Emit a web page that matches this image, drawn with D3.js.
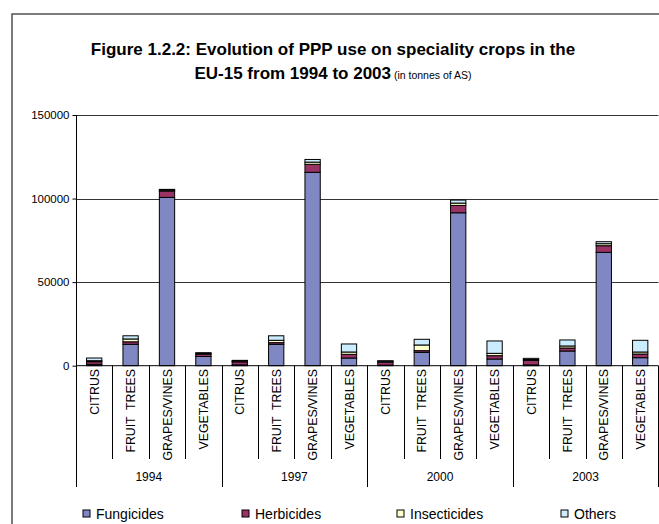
<!DOCTYPE html>
<html><head><meta charset="utf-8">
<script src="https://cdnjs.cloudflare.com/ajax/libs/d3/7.8.5/d3.min.js"></script>
<style>body{margin:0;background:#fff}svg{display:block;font-family:Arial,"Liberation Sans",sans-serif}</style>
</head><body><svg id="c" width="659" height="524"></svg>
<script>
const years = ["1994","1997","2000","2003"];
const crops = ["CITRUS","FRUIT  TREES","GRAPES/VINES","VEGETABLES"];
const seriesNames = ["Fungicides","Herbicides","Insecticides","Others"];
const seriesColors = ["#8088c4","#993366","#ffffcc","#ccecff"];
// values per year, ordered by crops
const fungicides = [800,12800,100700,5500, 500,12800,115700,4600, 300,8000,91500,4000, 500,8800,67800,4800];
const herbicides = [1600,1500,3800,1300, 1800,1000,4800,2200, 1800,1000,4400,2000, 2600,1800,4000,2200];
const insecticides = [600,1700,500,500, 400,1400,1300,1400, 500,3400,1400,1400, 600,1200,1200,1200];
const others = [1600,1900,500,500, 500,2700,1600,4800, 400,3400,1800,7400, 700,3600,1200,7000];
const yTicks = [0,50000,100000,150000];

const svg = d3.select("#c");
const x0=76,x1=658.4,yTop=115,yBase=365.7;

const rows = [];
years.forEach((yr,i)=>crops.forEach((c,j)=>{
  const k=i*4+j;
  rows.push({key:yr+"|"+c,year:yr,crop:c,Fungicides:fungicides[k],Herbicides:herbicides[k],Insecticides:insecticides[k],Others:others[k]});
}));

const x = d3.scaleBand().domain(rows.map(d=>d.key)).range([x0,x1]).paddingInner(0.58).paddingOuter(0.29);
const xc = d3.scaleBand().domain(rows.map(d=>d.key)).range([x0,x1]);
const y = d3.scaleLinear().domain([0,150000]).range([yBase,yTop]);

// frame
svg.append("rect").attr("x",12).attr("y",14).attr("width",700).attr("height",600)
  .attr("fill","none").attr("stroke","#505050").attr("stroke-width",1.5);

// title
const t = svg.append("text").attr("text-anchor","middle").attr("font-weight","bold").attr("font-size",17).attr("fill","#000");
t.append("tspan").attr("x",333).attr("y",55).text("Figure 1.2.2: Evolution of PPP use on speciality crops in the");
const t2 = svg.append("text").attr("text-anchor","middle").attr("x",333).attr("y",79).attr("fill","#000");
t2.append("tspan").attr("font-weight","bold").attr("font-size",17).text("EU-15 from 1994 to 2003");
t2.append("tspan").attr("font-size",10.5).text(" (in tonnes of AS)");

// gridlines
svg.append("g").selectAll("line").data(yTicks.slice(1)).join("line")
  .attr("x1",x0).attr("x2",x1).attr("y1",d=>Math.round(y(d))+0.5).attr("y2",d=>Math.round(y(d))+0.5)
  .attr("stroke","#333").attr("stroke-width",1);

// y axis
const ya = svg.append("g").attr("transform",`translate(${x0+0.5},0)`)
  .call(d3.axisLeft(y).tickValues(yTicks).tickSize(4).tickPadding(3).tickFormat(d3.format("d")));
ya.select(".domain").remove();
ya.selectAll("line").attr("stroke","#000");
ya.selectAll("text").attr("font-size",11.5).attr("font-family","Arial,'Liberation Sans',sans-serif").attr("fill","#000");
svg.append("line").attr("x1",x0+0.5).attr("x2",x0+0.5).attr("y1",yTop).attr("y2",487).attr("stroke","#000");

// bars
const stack = d3.stack().keys(seriesNames)(rows);
const color = d3.scaleOrdinal().domain(seriesNames).range(seriesColors);
svg.append("g").selectAll("g").data(stack).join("g").attr("fill",d=>color(d.key))
  .selectAll("rect").data(d=>d).join("rect")
  .attr("x",d=>x(d.data.key)).attr("width",x.bandwidth())
  .attr("y",d=>y(d[1])).attr("height",d=>y(d[0])-y(d[1]))
  .attr("stroke","#000").attr("stroke-width",1);

// x axis line
svg.append("line").attr("x1",x0).attr("x2",x1).attr("y1",yBase).attr("y2",yBase).attr("stroke","#000");

// category separators
const seps = d3.range(1,17).map(i=>({i,xx:x0+i*xc.step()}));
svg.append("g").selectAll("line").data(seps).join("line")
  .attr("x1",d=>Math.round(d.xx)+0.5).attr("x2",d=>Math.round(d.xx)+0.5)
  .attr("y1",yBase).attr("y2",d=>d.i%4===0?487:459).attr("stroke","#000");

// category labels
svg.append("g").selectAll("text").data(rows).join("text")
  .attr("transform",d=>`translate(${xc(d.key)+xc.bandwidth()/2+4.5},369) rotate(-90)`)
  .attr("text-anchor","end").attr("font-size",12.3).attr("fill","#000")
  .attr("xml:space","preserve").style("white-space","pre").text(d=>d.crop);

// year labels
const yb = d3.scaleBand().domain(years).range([x0,x1]);
svg.append("g").selectAll("text").data(years).join("text")
  .attr("x",d=>yb(d)+yb.bandwidth()/2).attr("y",481).attr("text-anchor","middle")
  .attr("font-size",12).attr("fill","#000").text(d=>d);

// legend
const legX = [83,242,397,561];
const lg = svg.append("g").selectAll("g").data(seriesNames).join("g")
  .attr("transform",(d,i)=>`translate(${legX[i]},509)`);
lg.append("rect").attr("width",7).attr("height",7).attr("y",1).attr("fill",d=>color(d)).attr("stroke","#000");
lg.append("text").attr("x",13).attr("y",10).attr("font-size",14).attr("fill","#000").text(d=>d);
</script></body></html>
